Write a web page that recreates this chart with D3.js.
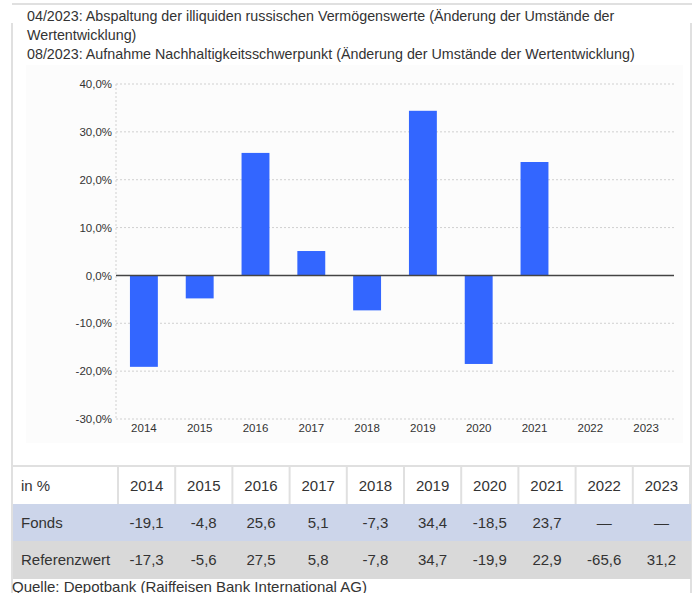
<!DOCTYPE html>
<html>
<head>
<meta charset="utf-8">
<script src="https://cdn.jsdelivr.net/npm/d3@7"></script>
<style>
  body { margin: 0; background: #fff; }
  svg text { font-family: "Liberation Sans", Arial, Helvetica, sans-serif; fill: #333; }
</style>
</head>
<body>
<div id="chart"></div>
<script>
// Daten
const notes = [
  "04/2023: Abspaltung der illiquiden russischen Vermögenswerte (Änderung der Umstände der",
  "Wertentwicklung)",
  "08/2023: Aufnahme Nachhaltigkeitsschwerpunkt (Änderung der Umstände der Wertentwicklung)"
];
const years = ["2014", "2015", "2016", "2017", "2018", "2019", "2020", "2021", "2022", "2023"];
const fonds = [-19.1, -4.8, 25.6, 5.1, -7.3, 34.4, -18.5, 23.7, null, null];
const referenz = [-17.3, -5.6, 27.5, 5.8, -7.8, 34.7, -19.9, 22.9, -65.6, 31.2];
const yTicks = [40, 30, 20, 10, 0, -10, -20, -30];
const source = "Quelle: Depotbank (Raiffeisen Bank International AG)";

const W = 700, H = 593;
const svg = d3.select("#chart").append("svg")
    .attr("width", W).attr("height", H);

// Rahmen
svg.append("line").attr("x1", 12).attr("x2", 692).attr("y1", 4).attr("y2", 4)
   .attr("stroke", "#e0e0e0").attr("stroke-width", 2);
svg.append("line").attr("x1", 12).attr("x2", 12).attr("y1", 23).attr("y2", H)
   .attr("stroke", "#e0e0e0").attr("stroke-width", 2);
svg.append("line").attr("x1", 691).attr("x2", 691).attr("y1", 23).attr("y2", H)
   .attr("stroke", "#e0e0e0").attr("stroke-width", 2);

// Hinweise
svg.append("g").selectAll("text")
   .data(notes).enter()
   .append("text")
   .attr("x", 27)
   .attr("y", (d, i) => 21 + i * 19)
   .style("font-size", "14.3px")
   .text(d => d);

// Diagrammhintergrund
svg.append("rect").attr("x", 26).attr("y", 65).attr("width", 657).attr("height", 378)
   .attr("fill", "#fcfcfc");

const x = d3.scaleBand().domain(years).range([116, 674]).paddingInner(0.5).paddingOuter(0.25);
const y = d3.scaleLinear().domain([-30, 40]).range([419, 84]);

// Gitterlinien
svg.append("g").selectAll("line")
   .data(yTicks.filter(t => t !== 0)).enter()
   .append("line")
   .attr("x1", 116).attr("x2", 674)
   .attr("y1", d => y(d)).attr("y2", d => y(d))
   .attr("stroke", "#d0d0d0").attr("stroke-dasharray", "2,2");
svg.append("line").attr("x1", 116).attr("x2", 116).attr("y1", y(40)).attr("y2", y(-30))
   .attr("stroke", "#d0d0d0").attr("stroke-dasharray", "2,2");

// Y-Achse
const fmt = v => d3.format(".1f")(v).replace(".", ",").replace("−", "-") + "%";
svg.append("g").attr("transform", "translate(116,0)")
   .call(d3.axisLeft(y).tickValues(yTicks).tickSize(0).tickPadding(4).tickFormat(fmt))
   .call(g => g.select(".domain").remove())
   .call(g => g.selectAll("text").style("font-size", "11.5px").attr("fill", "#333")
        .style("font-family", "'Liberation Sans', Arial, sans-serif"));

// Balken
const barData = years.map((yr, i) => ({ year: yr, value: fonds[i] })).filter(d => d.value !== null);
svg.append("g").selectAll("rect")
   .data(barData).enter()
   .append("rect")
   .attr("x", d => x(d.year))
   .attr("width", x.bandwidth())
   .attr("y", d => y(Math.max(0, d.value)))
   .attr("height", d => Math.abs(y(d.value) - y(0)))
   .attr("fill", "#3366ff");

// Nulllinie
svg.append("line").attr("x1", 116).attr("x2", 674).attr("y1", y(0)).attr("y2", y(0))
   .attr("stroke", "#444").attr("stroke-width", 1.5);

// X-Achse
svg.append("g").attr("transform", "translate(0," + y(-30) + ")")
   .call(d3.axisBottom(x).tickSize(0).tickPadding(5))
   .call(g => g.select(".domain").remove())
   .call(g => g.selectAll("text").style("font-size", "11.5px").attr("fill", "#333")
        .style("font-family", "'Liberation Sans', Arial, sans-serif"));

// Tabelle
const tableX = 12, firstCol = 106, colW = 57.2;
const rows = [
  { label: "in %", values: years, bg: "#ffffff", top: 467, h: 37 },
  { label: "Fonds", values: fonds, bg: "#ccd5ea", top: 504, h: 37 },
  { label: "Referenzwert", values: referenz, bg: "#d9d9d9", top: 541, h: 38 }
];
const fmtCell = v => v === null ? "—" : (typeof v === "string" ? v : d3.format(".1f")(v).replace(".", ",").replace("−", "-"));

svg.append("line").attr("x1", tableX).attr("x2", 691).attr("y1", 466).attr("y2", 466)
   .attr("stroke", "#e0e0e0").attr("stroke-width", 2);

rows.forEach(function(r, ri) {
    const g = svg.append("g");
    g.append("rect").attr("x", tableX + 1).attr("y", r.top).attr("width", 691 - tableX - 1).attr("height", r.h)
     .attr("fill", r.bg);
    g.append("text").attr("x", tableX + 9).attr("y", r.top + r.h / 2 + 5)
     .style("font-size", "15px").text(r.label);
    r.values.forEach(function(v, i) {
        g.append("text")
         .attr("x", tableX + firstCol + colW * (i + 0.5))
         .attr("y", r.top + r.h / 2 + 5)
         .attr("text-anchor", "middle")
         .style("font-size", "15px")
         .text(fmtCell(v));
    });
    if (ri === 0) {
        for (let i = 0; i <= years.length; i++) {
            g.append("line")
             .attr("x1", tableX + firstCol + colW * i).attr("x2", tableX + firstCol + colW * i)
             .attr("y1", r.top).attr("y2", r.top + r.h)
             .attr("stroke", "#e0e0e0").attr("stroke-width", 2);
        }
    }
});

svg.append("text").attr("x", 12).attr("y", 592)
   .style("font-size", "15px").text(source);
</script>
</body>
</html>
